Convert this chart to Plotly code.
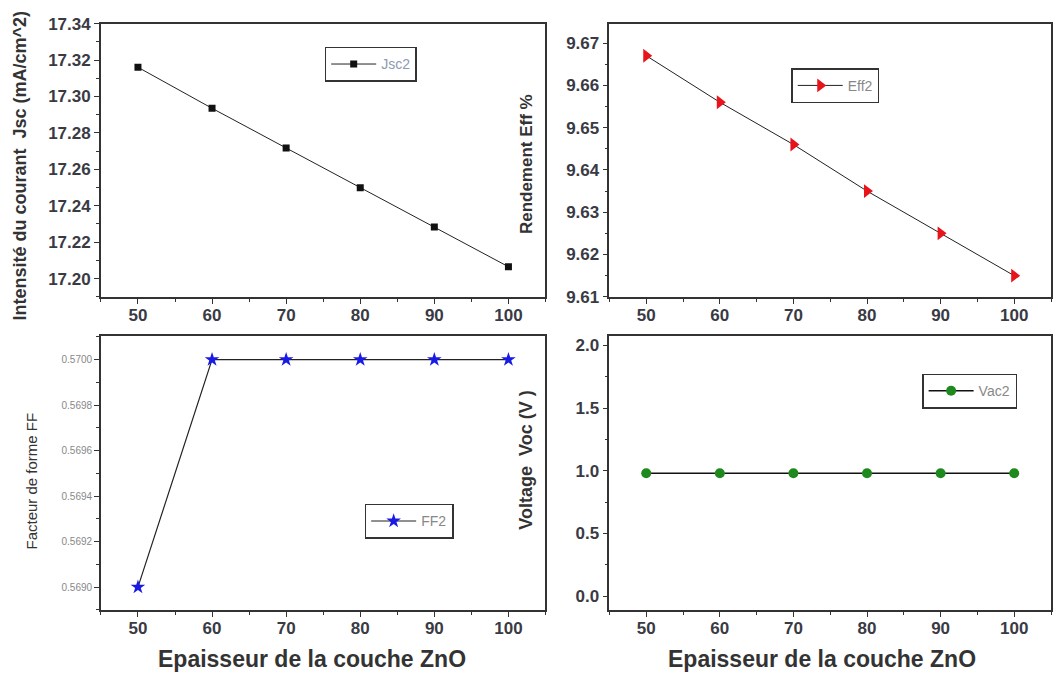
import plotly.graph_objects as go

# ---------------- data ----------------
thickness = [50, 60, 70, 80, 90, 100]
jsc2 = [17.316, 17.2935, 17.2717, 17.2499, 17.2283, 17.2065]
eff2 = [9.667, 9.656, 9.646, 9.635, 9.625, 9.615]
ff2 = [0.5690, 0.5700, 0.5700, 0.5700, 0.5700, 0.5700]
vac2 = [0.98, 0.98, 0.98, 0.98, 0.98, 0.98]

x_title = "Epaisseur de la couche ZnO"
jsc_title = "Intensité du courant  Jsc (mA/cm^2)"
eff_title = "Rendement Eff %"
ff_title = "Facteur de forme FF"
voc_title = "Voltage  Voc (V )"

FONT = "Liberation Sans, Arial, sans-serif"
W, H = 1053, 686

fig = go.Figure()

fig.add_trace(go.Scatter(x=thickness, y=jsc2, name="Jsc2", mode="lines+markers",
                         line=dict(color="#222", width=1),
                         marker=dict(symbol="square", size=7, color="#111"),
                         xaxis="x", yaxis="y", legend="legend", showlegend=True))
fig.add_trace(go.Scatter(x=thickness, y=eff2, name="Eff2", mode="lines+markers",
                         line=dict(color="#222", width=1),
                         marker=dict(symbol="triangle-right", size=12, color="#e8141c"),
                         xaxis="x2", yaxis="y2", legend="legend2", showlegend=True))
fig.add_trace(go.Scatter(x=thickness, y=ff2, name="FF2", mode="lines+markers",
                         line=dict(color="#222", width=1.2),
                         marker=dict(symbol="star", size=11, color="#1a1ae6"),
                         xaxis="x3", yaxis="y3", legend="legend3", showlegend=True))
fig.add_trace(go.Scatter(x=thickness, y=vac2, name="Vac2", mode="lines+markers",
                         line=dict(color="#111", width=1.5),
                         marker=dict(symbol="circle", size=10, color="#1e8a1e"),
                         xaxis="x4", yaxis="y4", legend="legend4", showlegend=True))

# domains (pixel -> paper)
def px_x(a, b):
    return [a / W, b / W]

def px_y(top, bottom):
    return [1 - bottom / H, 1 - top / H]

dx_left = px_x(101, 546)
dx_right = px_x(610, 1052)
dy_top = px_y(15, 296)
dy_bot = px_y(336, 618)

axis_common = dict(showline=True, linecolor="#333", linewidth=1.6, mirror=True,
                   ticks="outside", ticklen=5, tickwidth=1.2, tickcolor="#333",
                   showgrid=False, zeroline=False)
tickfont_bold = dict(family=FONT, size=17, color="#3a3a44", weight="bold")

def xax(domain, anchor):
    return dict(domain=domain, anchor=anchor, range=[45, 105], dtick=10, tick0=50,
                tickfont=tickfont_bold, ticklabelstandoff=-3,
                minor=dict(dtick=5, tick0=45, ticks="outside", ticklen=3, tickcolor="#333"),
                **axis_common)

fig.update_layout(
    width=W, height=H,
    margin=dict(l=0, r=0, t=0, b=0),
    paper_bgcolor="white", plot_bgcolor="white",
    font=dict(family=FONT),
    showlegend=True,
    xaxis=xax(dx_left, "y"),
    xaxis2=xax(dx_right, "y2"),
    xaxis3=xax(dx_left, "y3"),
    xaxis4=xax(dx_right, "y4"),
    yaxis=dict(domain=dy_top, anchor="x", range=[17.19, 17.34], dtick=0.02, tick0=17.20,
               tickformat=".2f", tickfont=tickfont_bold,
               minor=dict(dtick=0.01, ticks="outside", ticklen=3, tickcolor="#333"),
               **axis_common),
    yaxis2=dict(domain=dy_top, anchor="x2", range=[9.61, 9.6746], dtick=0.01, tick0=9.61,
                tickformat=".2f", tickfont=tickfont_bold,
                minor=dict(dtick=0.005, ticks="outside", ticklen=3, tickcolor="#333"),
                **axis_common),
    yaxis3=dict(domain=dy_bot, anchor="x3", range=[0.5689, 0.570105], dtick=0.0002, tick0=0.569,
                tickformat=".4f", tickfont=dict(family=FONT, size=10, color="#888"),
                minor=dict(dtick=0.0001, ticks="outside", ticklen=3, tickcolor="#333"),
                **axis_common),
    yaxis4=dict(domain=dy_bot, anchor="x4", range=[-0.11, 2.078], dtick=0.5, tick0=0,
                tickformat=".1f", tickfont=tickfont_bold,
                minor=dict(dtick=0.25, ticks="outside", ticklen=3, tickcolor="#333"),
                **axis_common),
)

def leg(x, y, color="#888"):
    return dict(x=x / W, y=1 - y / H, xanchor="left", yanchor="top",
                bgcolor="white", bordercolor="#333", borderwidth=1.5,
                font=dict(family=FONT, size=14, color=color),
                itemwidth=45, tracegroupgap=0, visible=True)

fig.update_layout(
    legend=leg(325, 39, "#8d9bb0"),
    legend2=leg(792, 61),
    legend3=leg(365, 509),
    legend4=leg(923, 375),
)

ann_font = dict(family=FONT, size=18, color="#333", weight="bold")
annotations = [
    dict(text=jsc_title, x=20 / W, y=1 - 161 / H, textangle=-90, font=ann_font),
    dict(text=eff_title, x=527 / W, y=1 - 159 / H, textangle=-90,
         font=dict(family=FONT, size=17, color="#333", weight="bold")),
    dict(text=ff_title, x=32 / W, y=1 - 485 / H, textangle=-90,
         font=dict(family=FONT, size=15, color="#333")),
    dict(text=voc_title, x=527 / W, y=1 - 464 / H, textangle=-90, font=ann_font),
    dict(text=x_title, x=312 / W, y=1 - 669 / H,
         font=dict(family=FONT, size=23, color="#333", weight="bold")),
    dict(text=x_title, x=823 / W, y=1 - 669 / H,
         font=dict(family=FONT, size=23, color="#333", weight="bold")),
]
for a in annotations:
    a.update(xref="paper", yref="paper", showarrow=False, xanchor="center", yanchor="middle")
fig.update_layout(annotations=annotations)

fig.write_html("out.html", config={"displayModeBar": False})

# remove default page margin so the figure sits at the window origin
with open("out.html", "r", encoding="utf-8") as f:
    html = f.read()
html = html.replace("<head>", "<head><style>html,body{margin:0;padding:0;overflow:hidden;}</style>", 1)
with open("out.html", "w", encoding="utf-8") as f:
    f.write(html)
